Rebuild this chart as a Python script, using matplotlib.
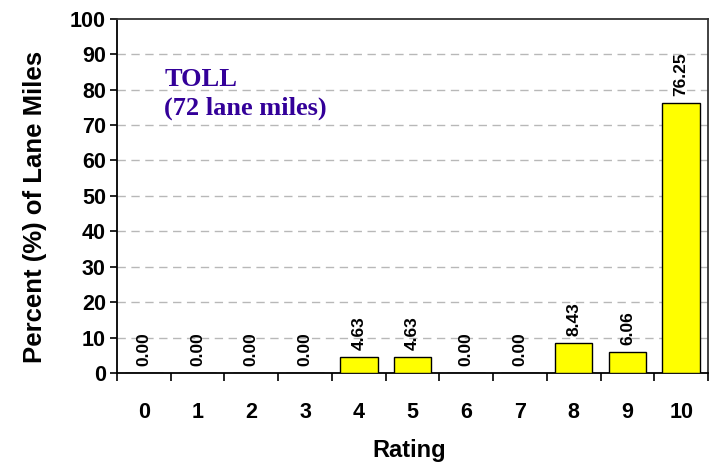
import matplotlib.pyplot as plt
import numpy as np

# Data
ratings = [0, 1, 2, 3, 4, 5, 6, 7, 8, 9, 10]
percent = [0.00, 0.00, 0.00, 0.00, 4.63, 4.63, 0.00, 0.00, 8.43, 6.06, 76.25]
yticks = [0, 10, 20, 30, 40, 50, 60, 70, 80, 90, 100]

plt.rcParams['font.family'] = ['Liberation Sans', 'DejaVu Sans']

fig = plt.figure(figsize=(7.1, 4.67), dpi=100)
ax = fig.add_axes([0.1648, 0.201, 0.8324, 0.759])

x = np.arange(len(ratings))
bars = ax.bar(x, percent, width=0.70, color='#ffff00', edgecolor='black',
              linewidth=1.0, zorder=3)

# Value labels, rotated
for xi, v in zip(x, percent):
    ax.annotate(f"{v:.2f}", (xi, v), xytext=(0, 5), textcoords='offset points',
                rotation=90, ha='center', va='bottom', fontsize=12.5,
                fontweight='bold', zorder=4)

ax.set_xlim(-0.5, 10.5)
ax.set_ylim(0, 100)
ax.set_yticks(yticks)
ax.set_yticklabels([str(t) for t in yticks], fontsize=15.5, fontweight='bold')

# category labels at centres, tick marks at boundaries
ax.set_xticks(x)
ax.set_xticklabels([str(r) for r in ratings], fontsize=15.5, fontweight='bold')
ax.tick_params(axis='x', which='major', length=0, pad=21)
ax.set_xticks(np.arange(-0.5, 11, 1), minor=True)
ax.tick_params(axis='x', which='minor', length=6, width=1.2, direction='out')
ax.tick_params(axis='y', length=5, width=1.2, direction='out', pad=3)

# dashed gridlines
for t in yticks[1:-1]:
    ax.axhline(t, color='#b8b8b8', linestyle=(0, (6, 4)), linewidth=1.0, zorder=1)

for s in ax.spines.values():
    s.set_linewidth(1.3)
    s.set_color('black')
ax.spines['top'].set_color('#333333')
ax.spines['right'].set_color('#333333')

ax.set_xlabel('Rating', fontsize=17, fontweight='bold')
ax.xaxis.set_label_coords(0.495, -0.185)
ax.set_ylabel('Percent (%) of Lane Miles', fontsize=18.5, fontweight='bold')
ax.yaxis.set_label_coords(-0.139, 0.47)
ax.yaxis.label.set_va('center')

ax.text(0.08, 0.86, 'TOLL\n(72 lane miles)', transform=ax.transAxes,
        fontsize=19, fontweight='bold', color='#330099',
        family=['Liberation Serif', 'DejaVu Serif'], va='top', ha='left',
        linespacing=1.3)

fig.savefig('out.png', dpi=100)
